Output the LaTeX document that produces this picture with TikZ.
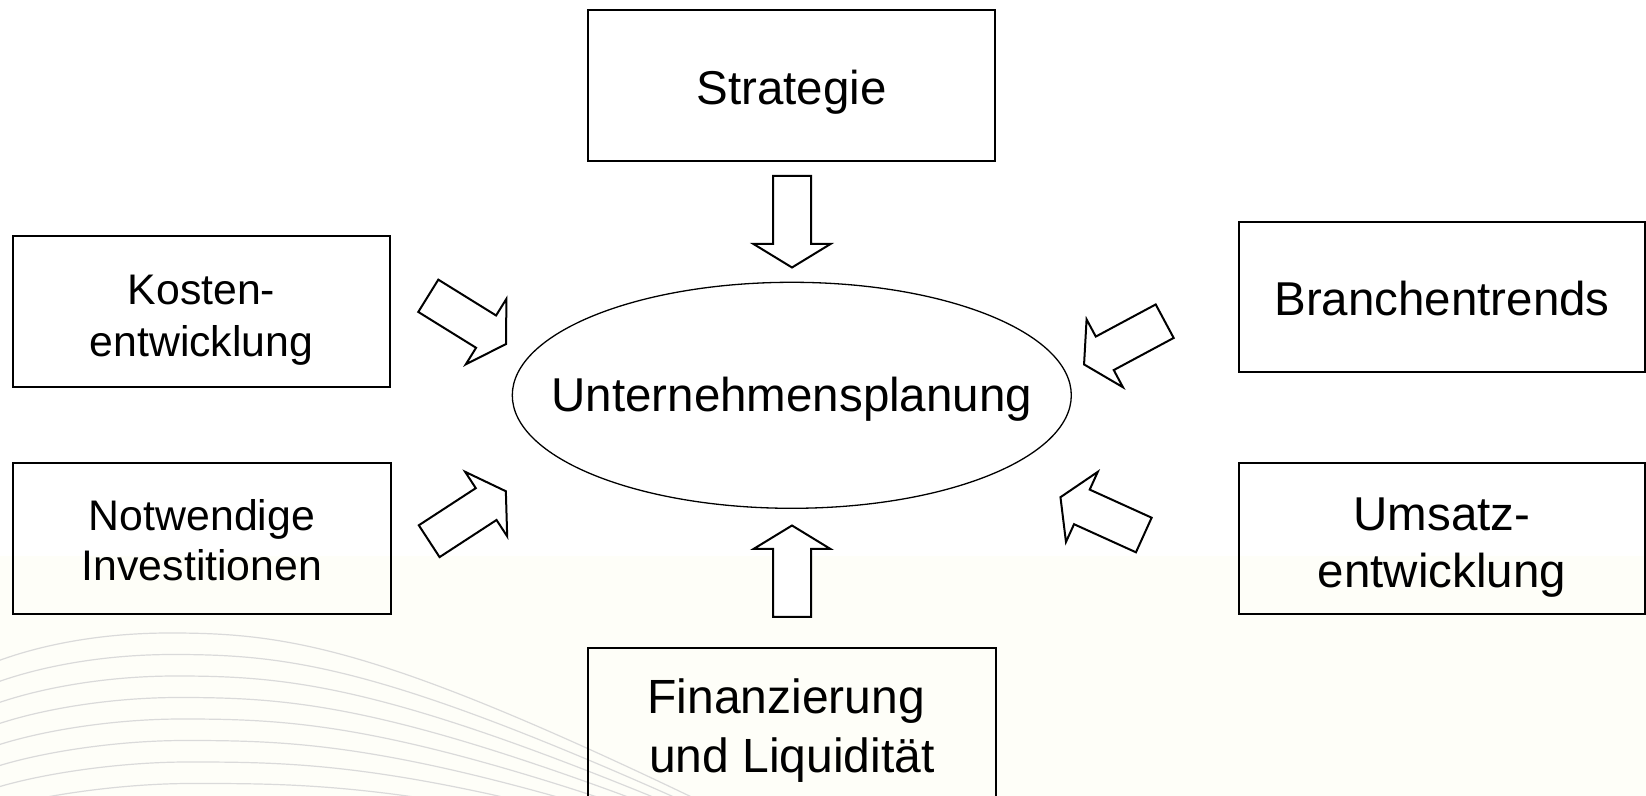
\documentclass[tikz,border=0pt]{standalone}
\usepackage{fontspec}
\setmainfont{Liberation Sans}
\usetikzlibrary{shapes.geometric}
\definecolor{cream}{RGB}{254,254,248}
\definecolor{wave}{RGB}{218,218,218}
\tikzset{
  box/.style={draw=black, line width=0.75pt, inner sep=0pt},
  boxtext/.style={inner sep=0pt, align=center, font=\fontsize{23.75pt}{27.5pt}\selectfont},
  smalltext/.style={inner sep=0pt, align=center, font=\fontsize{21.4pt}{26.2pt}\selectfont},
  arrowline/.style={draw=black, line width=1pt, line join=miter, fill=white},
  blockarrow/.pic={\path[arrowline] (0,-19) -- (68,-19) -- (68,-38.5) -- (91.5,0) -- (68,38.5) -- (68,19) -- (0,19) -- cycle;},
  waveline/.style={draw=wave, line width=0.6pt}
}
\begin{document}
\begin{tikzpicture}[x=0.5pt,y=-0.5pt]
\useasboundingbox (0,0) rectangle (1646,796);
\fill[white] (0,0) rectangle (1646,556);
\fill[cream] (0,556) rectangle (1646,796);
\begin{scope}
\clip (0,0) rectangle (1646,796);
\foreach \i in {0,...,7}{
  \draw[waveline] (-5,{662+21*\i}) .. controls (40,{645+21.5*\i}) and ({100+3*\i},{633+21.5*\i}) .. ({170+3*\i},{633+21.5*\i})
     .. controls ({300+3*\i},{633+21.5*\i}) and ({400+5*\i},{650+19*\i}) .. (820,{860+4*\i});
}
\end{scope}
\node[box, minimum width=203.5pt, minimum height=75.5pt,
  label={[boxtext, yshift=-3.6pt]center:Strategie}] (strat) at (791.5,85.5) {};
\node[box, minimum width=188.5pt, minimum height=75.5pt,
  label={[smalltext, yshift=-4.5pt]center:Kosten-\\entwicklung}] (kosten) at (201.5,311.5) {};
\node[box, minimum width=189pt, minimum height=75.5pt,
  label={[smalltext, font=\fontsize{21.4pt}{25.2pt}\selectfont, yshift=-1pt]center:Notwendige\\Investitionen}] (notw) at (202,538.5) {};
\node[box, minimum width=203pt, minimum height=75pt,
  label={[boxtext, yshift=-1pt]center:Branchentrends}] (branch) at (1442,297) {};
\node[box, minimum width=203pt, minimum height=75.5pt,
  label={[boxtext, font=\fontsize{23.75pt}{28.9pt}\selectfont, yshift=-4.5pt]center:Umsatz-\\entwicklung}] (umsatz) at (1442,538.5) {};
\node[box, minimum width=204pt, minimum height=75.5pt,
  label={[boxtext, font=\fontsize{24pt}{29.4pt}\selectfont, yshift=-3.4pt]center:Finanzierung\hspace*{5.8pt}\\und Liquidit\"at}] (finanz) at (792,723.5) {};
\node[draw=black, line width=0.65pt, ellipse, inner sep=0pt, minimum width=279.5pt, minimum height=113pt,
  label={[boxtext, yshift=-2pt]center:Unternehmensplanung}] (plan) at (791.8,395.3) {};
\pic[rotate=-90] (arrS) at (792,176) {blockarrow};
\pic[rotate=90] (arrF) at (792,617) {blockarrow};
\pic[rotate=-31.8] (arrK) at (428.3,295.8) {blockarrow};
\pic[rotate=33.1] (arrN) at (429.2,541.2) {blockarrow};
\pic[rotate=-151.8] (arrB) at (1164.7,321.2) {blockarrow};
\pic[rotate=155.6] (arrU) at (1143.8,535) {blockarrow};
\end{tikzpicture}
\end{document}
